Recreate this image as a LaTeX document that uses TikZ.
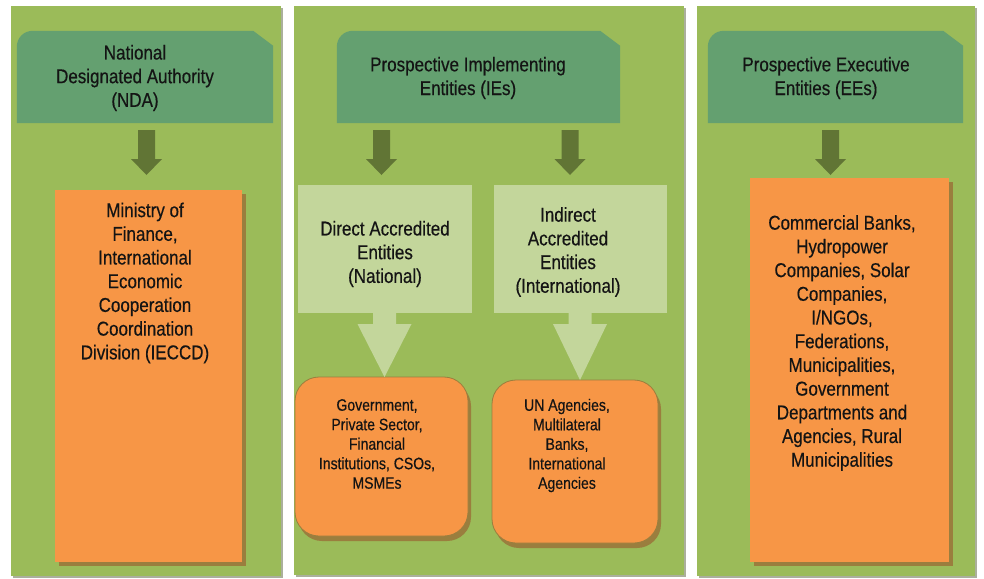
\documentclass[tikz,border=0pt]{standalone}
\usepackage{fontspec}
\setmainfont[FakeStretch=0.85,FakeBold=0.4]{Liberation Sans}
\usepackage{tikz}
\usetikzlibrary{positioning,calc,shadows}

\definecolor{panelgreen}{HTML}{9BBB59}
\definecolor{panelgrey}{HTML}{ABAF9C}
\definecolor{hdrgreen}{HTML}{64A070}
\definecolor{arrowdark}{HTML}{617535}
\definecolor{lightgreen}{HTML}{C3D69B}
\definecolor{boxorange}{HTML}{F79646}
\definecolor{shadowbrown}{HTML}{9A7E3E}
\definecolor{textblack}{HTML}{141414}

\tikzset{
  panel/.style={fill=panelgreen, inner sep=0,
    drop shadow={shadow xshift=2pt, shadow yshift=-2pt, fill=panelgrey, opacity=1}},
  hdrbox/.style={inner sep=0},
  orangebox/.style={fill=boxorange, inner sep=0,
    drop shadow={shadow xshift=4pt, shadow yshift=-4pt, fill=shadowbrown, opacity=1}},
  roundbox/.style={fill=boxorange, draw=shadowbrown, line width=0.8pt, inner sep=0,
    rounded corners=24pt,
    drop shadow={shadow xshift=3pt, shadow yshift=-5pt, fill=shadowbrown, opacity=1}},
  lightbox/.style={fill=lightgreen, inner sep=0},
  bigtext/.style={align=center, text=textblack, inner sep=0,
    font=\fontsize{20}{23.7}\selectfont},
  smalltext/.style={align=center, text=textblack, inner sep=0,
    font=\fontsize{16.5}{19.5}\selectfont},
  darkarrow/.style={fill=arrowdark},
  lightarrow/.style={fill=lightgreen}
}

% block arrow: style, top point, tip, shaft half width, head half width, head length
\newcommand{\blockarrow}[6]{%
  \fill[#1] let \p1=(#2), \p2=(#3) in
    (\x2-#4,\y1) -- (\x2+#4,\y1) -- (\x2+#4,\y2+#6) -- (\x2+#5,\y2+#6)
    -- (\x2,\y2) -- (\x2-#5,\y2+#6) -- (\x2-#4,\y2+#6) -- cycle;}

\begin{document}
\begin{tikzpicture}[x=1pt, y=-1pt]

\useasboundingbox (0,0) rectangle (984,578);
\fill[white] (0,0) rectangle (984,578);

% panels
\node [panel, minimum width=270, minimum height=570] (panel-nda) at (146,291) {};
\node [panel, minimum width=390, minimum height=569] (panel-ie) at (489,290.5) {};
\node [panel, minimum width=278, minimum height=570] (panel-ee) at (836,291) {};

% headers
\node [hdrbox, minimum width=256, minimum height=92] (hdr-nda) at (145,77) {};
\node [hdrbox, minimum width=283, minimum height=92] (hdr-ie) at (478.5,77) {};
\node [hdrbox, minimum width=255, minimum height=92] (hdr-ee) at (835.5,77) {};

\foreach \h in {hdr-nda, hdr-ie, hdr-ee}
  \fill [hdrgreen] (\h.south west) -- ($(\h.north west)+(0,16)$)
    .. controls ($(\h.north west)+(0,7)$) and ($(\h.north west)+(7,0)$) ..
    ($(\h.north west)+(16,0)$) -- ($(\h.north east)+(-20,0)$)
    -- ($(\h.north east)+(0,15)$) -- (\h.south east) -- cycle;

\node [bigtext] (txt-nda) at (135,78) {National\\Designated Authority\\(NDA)};
\node [bigtext] (txt-ie) at (468,78) {Prospective Implementing\\Entities (IEs)};
\node [bigtext] (txt-ee) at (826,78) {Prospective Executive\\Entities (EEs)};

% orange boxes
\node [orangebox, minimum width=187, minimum height=372] (box-mof) at (148.5,376) {};
\node [orangebox, minimum width=199, minimum height=384] (box-ee) at (849.5,370) {};

\node [bigtext] (txt-mof) at (145,283) {Ministry of\\Finance,\\International\\Economic\\Cooperation\\Coordination\\Division (IECCD)};
\node [bigtext] (txt-eelist) at (842,343) {Commercial Banks,\\Hydropower\\Companies, Solar\\Companies,\\I/NGOs,\\Federations,\\Municipalities,\\Government\\Departments and\\Agencies, Rural\\Municipalities};

% accredited entities
\node [lightbox, minimum width=174, minimum height=128] (box-dae) at (385,249) {};
\node [lightbox, minimum width=173, minimum height=128] (box-iae) at (580.5,249) {};

\node [bigtext] (txt-dae) at (385,254) {Direct Accredited\\Entities\\(National)};
\node [bigtext] (txt-iae) at (568,252) {Indirect\\Accredited\\Entities\\(International)};

% rounded boxes
\node [roundbox, minimum width=173, minimum height=159] (box-gov) at (381.5,456.5) {};
\node [roundbox, minimum width=166, minimum height=163] (box-un) at (575,461.5) {};

\node [smalltext] (txt-gov) at (377,444) {Government,\\Private Sector,\\Financial\\Institutions, CSOs,\\MSMEs};
\node [smalltext] (txt-un) at (567,445.5) {UN Agencies,\\Multilateral\\Banks,\\International\\Agencies};

% arrows
\coordinate (tip-mof) at (146.5,175);
\coordinate (tip-dae) at (381.5,175);
\coordinate (tip-iae) at (570,175);
\coordinate (tip-ee) at (830.5,175);
\coordinate (tip-gov) at (384.5,377);
\coordinate (tip-un) at (580,380);

\blockarrow{darkarrow}{$(hdr-nda.south)+(0,7)$}{tip-mof}{8.5pt}{15.5pt}{16pt}
\blockarrow{darkarrow}{$(hdr-ie.south)+(0,7)$}{tip-dae}{8.5pt}{15.5pt}{16pt}
\blockarrow{darkarrow}{$(hdr-ie.south)+(0,7)$}{tip-iae}{8.5pt}{15.5pt}{16pt}
\blockarrow{darkarrow}{$(hdr-ee.south)+(0,7)$}{tip-ee}{8.5pt}{15.5pt}{16pt}

\blockarrow{lightarrow}{box-dae.south}{tip-gov}{11.5pt}{27pt}{53pt}
\blockarrow{lightarrow}{box-iae.south}{tip-un}{11.5pt}{27pt}{56pt}

\end{tikzpicture}
\end{document}
